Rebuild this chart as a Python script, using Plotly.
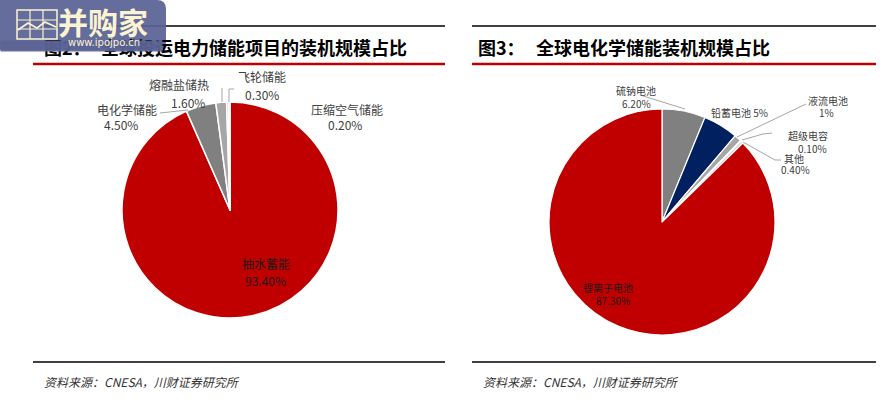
import plotly.graph_objects as go

W, H = 893, 415

# ---- data ----
left_labels = ["抽水蓄能", "电化学储能", "熔融盐储热", "飞轮储能", "压缩空气储能"]
left_values = [93.4, 4.5, 1.6, 0.3, 0.2]
right_labels = ["硫钠电池", "铅蓄电池", "液流电池", "超级电容", "其他", "锂离子电池"]
right_values = [6.2, 5, 1, 0.1, 0.4, 87.3]

left_title_no = "图2："
left_title = "全球投运电力储能项目的装机规模占比"
right_title_no = "图3："
right_title = "全球电化学储能装机规模占比"
source_text = "资料来源：CNESA，川财证券研究所"

# ---- style ----
left_colors = ["#C00000", "#808080", "#A6A6A6", "#D0D0D0", "#E8E8E8"]
right_colors = ["#808080", "#002060", "#A6A6A6", "#4472C4", "#D9D9D9", "#C00000"]

CJK = "Noto Sans CJK SC"


def px(x):
    return x / W


def py(y):
    return 1 - y / H


def fmt(v):
    return f"{int(v)}%" if float(v).is_integer() else f"{v:.2f}%"


fig = go.Figure()

# pies (center, radius in pixels)
lc, lr = (230, 210), 108
rc, rr = (662, 222), 113

fig.add_trace(go.Pie(
    labels=left_labels, values=left_values, sort=False, direction="clockwise",
    rotation=0, textinfo="none", showlegend=False,
    marker=dict(colors=left_colors, line=dict(color="white", width=1.5)),
    domain=dict(x=[px(lc[0] - lr), px(lc[0] + lr)], y=[py(lc[1] + lr), py(lc[1] - lr)]),
))
fig.add_trace(go.Pie(
    labels=right_labels, values=right_values, sort=False, direction="clockwise",
    rotation=0, textinfo="none", showlegend=False,
    marker=dict(colors=right_colors, line=dict(color="white", width=1.2)),
    domain=dict(x=[px(rc[0] - rr), px(rc[0] + rr)], y=[py(rc[1] + rr), py(rc[1] - rr)]),
))

ann = []
shapes = []


def text(x, y, s, size, color="#404040", anchor="center", bold=False, italic=False, family=CJK):
    ann.append(dict(
        x=px(x), y=py(y), xref="paper", yref="paper", text=s, showarrow=False,
        xanchor=anchor, yanchor="middle", borderpad=0,
        font=dict(family=family, size=size, color=color,
                  weight="bold" if bold else "normal",
                  style="italic" if italic else "normal"),
    ))


def line(x0, y0, x1, y1, color="black", width=1.0):
    shapes.append(dict(type="line", xref="paper", yref="paper",
                       x0=px(x0), y0=py(y0), x1=px(x1), y1=py(y1),
                       line=dict(color=color, width=width), layer="above"))


def path(points, color, width=1.0, fill=None, closed=False):
    d = "M " + " L ".join(f"{px(x)},{py(y)}" for x, y in points)
    if closed:
        d += " Z"
    shapes.append(dict(type="path", xref="paper", yref="paper", path=d,
                       line=dict(color=color, width=width),
                       fillcolor=fill if fill else "rgba(0,0,0,0)", layer="above"))


# frame lines
for x0, x1 in [(33, 445), (472, 876)]:
    line(x0, 26, x1, 26, "black", 1.5)
    line(x0, 64, x1, 64, "#C00000", 2.5)
    line(x0, 362, x1, 362, "black", 1.5)

# titles
text(43, 47, left_title_no, 18, "black", "left", bold=True)
text(100, 47, left_title, 18, "black", "left", bold=True)
text(477, 47, right_title_no, 18, "black", "left", bold=True)
text(535, 47, right_title, 18, "black", "left", bold=True)

# source
text(43, 381, source_text, 12, "#333333", "left", italic=True)
text(482, 381, source_text, 12, "#333333", "left", italic=True)

# left pie labels: (name pos, value pos)
left_pos = [((266, 263), (265, 280)),
            ((127, 109), (121, 125)),
            ((179, 84), (188, 102)),
            ((262, 77), (262, 95)),
            ((347, 109), (345, 125))]
for i, (lab, v) in enumerate(zip(left_labels, left_values)):
    (nx, ny), (vx, vy) = left_pos[i]
    col = "#1a1a1a" if i == 0 else "#404040"
    text(nx, ny, lab, 12, col)
    text(vx, vy, fmt(v), 12, col)

# left leader lines
lead = "#A6A6A6"
path([(160, 113), (188, 110)], lead, 1)
path([(222, 88), (222, 102)], lead, 1)
path([(229, 102), (229, 89), (234, 89)], lead, 1)

# right pie labels
right_pos = [((636, 90), (636, 103)),
             ((739, 113), None),
             ((828, 101), (826, 113)),
             ((808, 135), (812, 148)),
             ((794, 158), (795, 169)),
             ((608, 287), (613, 300))]
for i, (lab, v) in enumerate(zip(right_labels, right_values)):
    npos, vpos = right_pos[i]
    col = "#1a1a1a" if i == 5 else "#404040"
    if vpos is None:
        text(npos[0], npos[1], f"{lab} {fmt(v)}", 10, col)
    else:
        text(npos[0], npos[1], lab, 10, col)
        text(vpos[0], vpos[1], fmt(v), 10, col)

path([(640, 95), (685, 109)], lead, 1)
path([(806, 104), (737, 137)], lead, 1)
path([(772, 133), (763, 134), (742, 140)], lead, 1)
path([(781, 160), (775, 160), (743, 142)], lead, 1)

# watermark logo (sits on top of the left title)
logo = "rgba(88,98,148,0.93)"
shapes.append(dict(
    type="path", xref="paper", yref="paper", layer="above",
    path=(f"M {px(0)},{py(0)} L {px(157)},{py(0)} Q {px(166)},{py(0)} {px(166)},{py(9)} "
          f"L {px(166)},{py(42)} Q {px(166)},{py(50)} {px(157)},{py(50)} L {px(0)},{py(50)} Z"),
    fillcolor=logo, line=dict(width=0)))
# cover strip drawn after the title annotations so the logo hides the title top
ann.append(dict(x=px(0), y=py(40), xref="paper", yref="paper", text=" ", showarrow=False,
                xanchor="left", yanchor="top", width=161, height=10, borderpad=0,
                bgcolor="rgb(92,101,150)", opacity=0.93, font=dict(size=6)))
cream = "#FBF3D2"
path([(17, 10), (57, 10), (57, 39), (17, 39)], cream, 1.5, closed=True)
for gx in (30, 43):
    line(gx, 10, gx, 39, cream, 1.2)
for gy in (20, 29):
    line(17, gy, 57, gy, cream, 1.2)
path([(18, 30), (28, 23), (37, 28), (45, 22), (56, 27)], cream, 1.8)
text(103, 21, "并购家", 30, cream, "center", bold=True)
text(104, 42, "www.ipojpo.cn", 10, cream, "center", family="DejaVu Sans")

fig.update_layout(
    width=W, height=H, margin=dict(l=0, r=0, t=0, b=0),
    paper_bgcolor="white", plot_bgcolor="white",
    annotations=ann, shapes=shapes,
)

fig.write_html("out.html", config={"displayModeBar": False},
               post_script="document.body.style.margin='0px';")
